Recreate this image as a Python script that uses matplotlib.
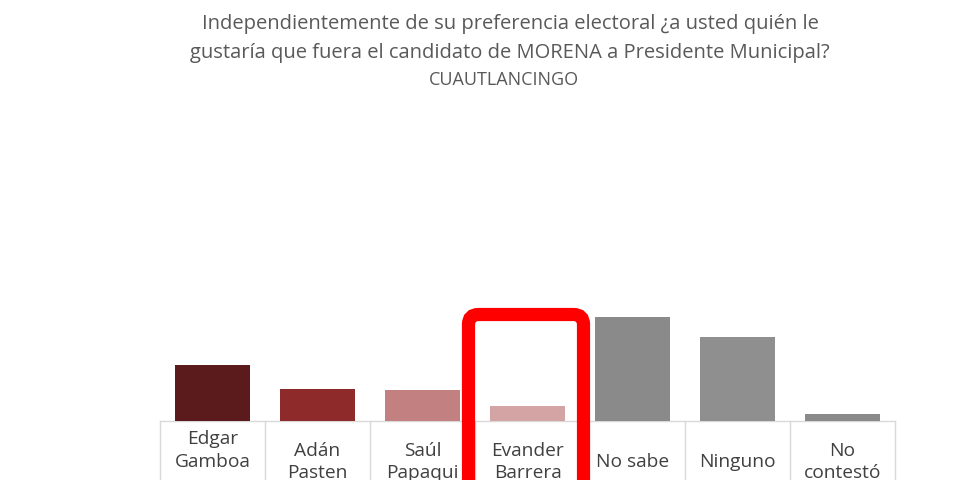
import matplotlib
matplotlib.use('Agg')
import matplotlib.pyplot as plt
import matplotlib.transforms as mtransforms
from matplotlib.patches import FancyBboxPatch
import numpy as np

plt.rcParams['font.family'] = ['Open Sans', 'DejaVu Sans']

# data (%)
candidatos = ['Edgar\nGamboa\n ', 'Adán\nPasten', 'Saúl\nPapaqui', 'Evander\nBarrera',
              'No sabe', 'Ninguno', 'No\ncontestó']
valores = [14.0, 8.0, 7.8, 3.8, 26.0, 21.0, 1.8]
colores = ['#5b1a1c', '#8e2a2a', '#c28080', '#d4a4a4', '#8a8a8a', '#8f8f8f', '#8a8a8a']

titulo = ('Independientemente de su preferencia electoral ¿a usted quién le\n'
          'gustaría que fuera el candidato de MORENA a Presidente Municipal?')
subtitulo = 'CUAUTLANCINGO'

fig = plt.figure(figsize=(9.6, 4.8), dpi=100)
ax = fig.add_axes([160 / 960, 59 / 480, 735 / 960, 120 / 480])

x = np.arange(len(candidatos))
ax.bar(x, valores, width=0.714, color=colores, zorder=3)
ax.set_xlim(-0.5, len(candidatos) - 0.5)
ax.set_ylim(0, 30)
ax.axis('off')

# label table below the bars
grid = '#d9d9d9'
ax.plot([-0.5, len(candidatos) - 0.5], [0, 0], color=grid, lw=1, clip_on=False)
trans = mtransforms.blended_transform_factory(ax.transData, fig.transFigure)
for i in range(len(candidatos) + 1):
    ax.plot([i - 0.5, i - 0.5], [59 / 480, -0.1], color=grid, lw=1,
            transform=trans, clip_on=False)
for i, lab in enumerate(candidatos):
    ax.text(i, 18 / 480, lab, transform=trans, ha='center', va='center',
            fontsize=13.8, color='#404040', linespacing=1.35)

# titles
fig.text(510 / 960, 0.970, titulo, ha='center', va='top', fontsize=14.5,
         color='#595959', linespacing=1.6)
fig.text(504 / 960, 1 - 80 / 480, subtitulo, ha='center', va='center', fontsize=13,
         color='#595959')

# red highlight box
box = FancyBboxPatch((468.5, -30), 115, 195.5, boxstyle='round,pad=0,rounding_size=10',
                     fill=False, edgecolor='#ff0000', linewidth=9.5,
                     transform=mtransforms.IdentityTransform())
fig.add_artist(box)

fig.savefig('out.png', dpi=100)
